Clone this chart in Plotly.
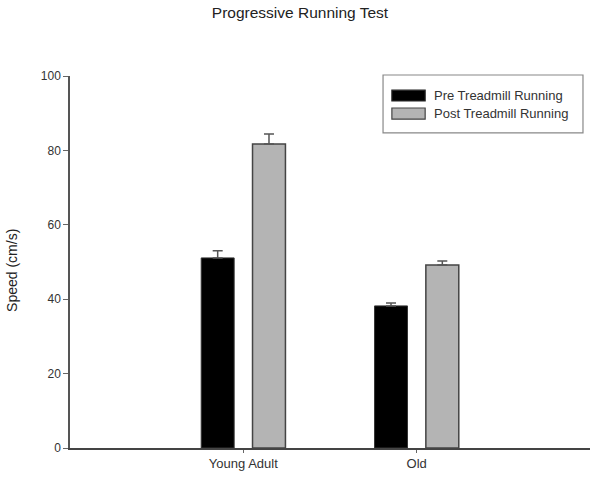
import plotly.graph_objects as go

categories = ["Young Adult", "Old"]
pre_values = [51.1, 38.2]
pre_errors = [1.9, 0.8]
post_values = [81.7, 49.2]
post_errors = [2.7, 1.1]
series_names = ["Pre Treadmill Running", "Post Treadmill Running"]
series_colors = ["#000000", "#b4b4b4"]
y_ticks = [0, 20, 40, 60, 80, 100]

xpos = list(range(len(categories)))
font_family = "Liberation Sans, Arial, sans-serif"

fig = go.Figure()
fig.add_trace(go.Bar(
    x=xpos, y=pre_values, name=series_names[0],
    width=0.19, offset=-0.243,
    marker=dict(color=series_colors[0], line=dict(color="#333333", width=1)),
    error_y=dict(type="data", array=pre_errors, arrayminus=[0]*len(pre_errors),
                 symmetric=False, color="#555555", thickness=1.5, width=5),
))
fig.add_trace(go.Bar(
    x=xpos, y=post_values, name=series_names[1],
    width=0.19, offset=0.053,
    marker=dict(color=series_colors[1], line=dict(color="#444444", width=1.5)),
    error_y=dict(type="data", array=post_errors, arrayminus=[0]*len(post_errors),
                 symmetric=False, color="#555555", thickness=1.5, width=5),
))

# manual legend (box, swatches, real-text labels) in paper coordinates
fig.add_shape(type="rect", xref="paper", yref="paper",
              x0=0.602, x1=0.9865, y0=0.847, y1=1.0027,
              line=dict(color="#888888", width=1.2), fillcolor="white", layer="above")
legend_rows = [(0.962, 0.933), (0.914, 0.884)]
line_cols = ["#222222", "#444444"]
for (ytop, ybot), name, col, lc in zip(legend_rows, series_names, series_colors, line_cols):
    fig.add_shape(type="rect", xref="paper", yref="paper",
                  x0=0.619, x1=0.683, y0=ybot, y1=ytop,
                  line=dict(color=lc, width=1.2), fillcolor=col, layer="above")
    fig.add_annotation(xref="paper", yref="paper", x=0.697, y=(ytop + ybot) / 2,
                       text=name, showarrow=False, xanchor="left", yanchor="middle",
                       font=dict(size=13, color="#333333"))

fig.add_annotation(xref="paper", yref="paper", x=-0.1115, y=0.476,
                   text="Speed (cm/s)", textangle=-90, showarrow=False,
                   xanchor="center", yanchor="middle",
                   font=dict(size=14, color="#222222"))

fig.update_layout(
    width=600, height=482,
    margin=dict(l=70, r=10, t=76, b=34),
    paper_bgcolor="white", plot_bgcolor="white",
    font=dict(family=font_family, color="#222222", size=12),
    title=dict(text="Progressive Running Test", x=0.5, xanchor="center",
               y=1 - 13 / 482, yanchor="middle", font=dict(size=15.5, color="#222222")),
    showlegend=False,
    barmode="overlay",
)
fig.update_xaxes(
    range=[-1, 2], tickmode="array", tickvals=xpos, ticktext=categories,
    showline=True, linecolor="#444444", linewidth=1.5,
    ticks="outside", ticklen=3, tickcolor="#666666",
    showgrid=False, zeroline=False, tickfont=dict(size=13, color="#333333"),
)
fig.update_yaxes(
    range=[0, 100], tickvals=y_ticks,
    showline=True, linecolor="#555555", linewidth=1.5,
    ticks="outside", ticklen=5, tickcolor="#666666",
    showgrid=False, zeroline=False, tickfont=dict(size=12, color="#333333"),
)

fig.write_html("out.html", config={"displayModeBar": False},
               post_script="document.body.style.margin='0';")
